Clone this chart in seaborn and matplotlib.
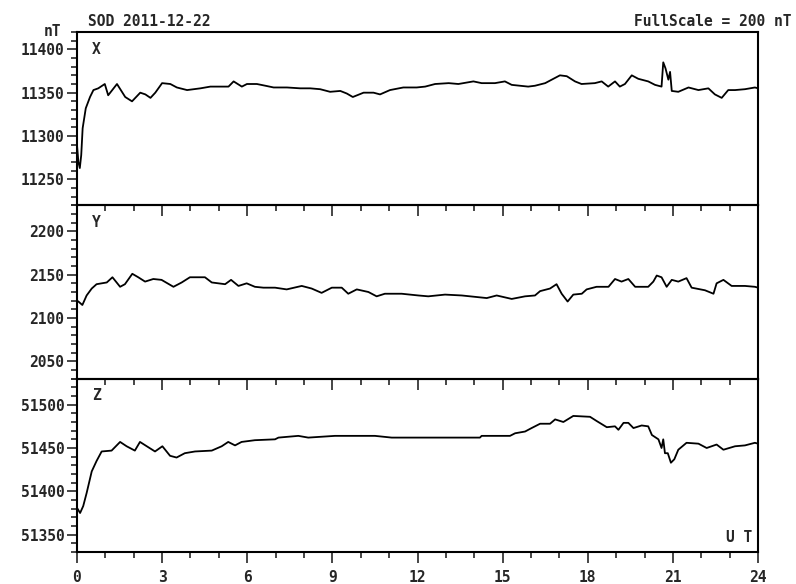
import numpy as np
import pandas as pd
import matplotlib
matplotlib.use("Agg")
import matplotlib.pyplot as plt
from matplotlib.ticker import MultipleLocator
import seaborn as sns

# Values (hours UT, nT)
x_hours = [0.0, 0.05, 0.1, 0.15, 0.2, 0.31, 0.46, 0.58, 0.75, 0.98, 1.1, 1.41, 1.7, 1.94,
           2.23, 2.41, 2.59, 2.76, 3.0, 3.29, 3.52, 3.88, 4.35, 4.7, 5.05, 5.34, 5.52, 5.81,
           5.99, 6.34, 6.64, 6.93, 7.4, 7.87, 8.22, 8.57, 8.92, 9.28, 9.51, 9.72, 10.1, 10.45,
           10.68, 11.03, 11.5, 11.97, 12.27, 12.62, 13.1, 13.44, 13.97, 14.26, 14.73, 15.08,
           15.32, 15.9, 16.14, 16.5, 16.73, 17.02, 17.26, 17.55, 17.78, 18.25, 18.49, 18.72,
           18.96, 19.13, 19.31, 19.55, 19.78, 20.13, 20.37, 20.6, 20.66, 20.74, 20.84, 20.9,
           20.96, 21.19, 21.55, 21.9, 22.25, 22.48, 22.72, 22.95, 23.19, 23.54, 23.89, 24.0]
x_nt = [11290, 11270, 11263, 11278, 11309, 11332, 11345, 11353, 11355, 11360, 11347, 11360,
        11345, 11340, 11350, 11348, 11344, 11350, 11361, 11360, 11356, 11353, 11355, 11357,
        11357, 11357, 11363, 11357, 11360, 11360, 11358, 11356, 11356, 11355, 11355, 11354,
        11351, 11352, 11349, 11345, 11350, 11350, 11348, 11353, 11356, 11356, 11357, 11360,
        11361, 11360, 11363, 11361, 11361, 11363, 11359, 11357, 11358, 11361, 11365, 11370,
        11369, 11363, 11360, 11361, 11363, 11357, 11363, 11357, 11360, 11370, 11366, 11363,
        11359, 11357, 11385, 11378, 11365, 11374, 11352, 11351, 11356, 11353, 11355, 11348,
        11344, 11353, 11353, 11354, 11356, 11355]

y_hours = [0.0, 0.05, 0.19, 0.34, 0.52, 0.69, 1.05, 1.25, 1.52, 1.69, 1.95, 2.16, 2.4, 2.69,
           2.98, 3.4, 3.69, 3.98, 4.51, 4.75, 5.22, 5.43, 5.69, 5.98, 6.27, 6.57, 6.98, 7.39,
           7.92, 8.27, 8.62, 8.98, 9.33, 9.56, 9.86, 10.27, 10.56, 10.85, 11.44, 12.03, 12.38,
           12.97, 13.56, 14.44, 14.79, 15.32, 15.79, 16.14, 16.32, 16.67, 16.9, 17.08, 17.29,
           17.49, 17.79, 17.96, 18.31, 18.73, 18.96, 19.19, 19.43, 19.67, 20.13, 20.31, 20.43,
           20.6, 20.78, 20.96, 21.19, 21.48, 21.66, 22.13, 22.43, 22.54, 22.78, 23.07, 23.54,
           23.89, 24.0]
y_nt = [2120, 2119, 2115, 2126, 2134, 2139, 2141, 2147, 2136, 2139, 2151, 2147, 2142, 2145,
        2144, 2136, 2141, 2147, 2147, 2141, 2139, 2144, 2137, 2140, 2136, 2135, 2135, 2133,
        2137, 2134, 2129, 2135, 2135, 2128, 2133, 2130, 2125, 2128, 2128, 2126, 2125, 2127,
        2126, 2123, 2126, 2122, 2125, 2126, 2131, 2134, 2139, 2128, 2119, 2127, 2128, 2133,
        2136, 2136, 2145, 2142, 2145, 2136, 2136, 2142, 2149, 2147, 2136, 2144, 2142, 2146,
        2135, 2132, 2128, 2140, 2144, 2137, 2137, 2136, 2135]

z_hours = [0.0, 0.11, 0.22, 0.34, 0.52, 0.69, 0.87, 1.22, 1.52, 1.75, 2.04, 2.22, 2.46, 2.75,
           3.01, 3.28, 3.51, 3.8, 4.16, 4.75, 5.1, 5.33, 5.57, 5.8, 6.27, 6.98, 7.1, 7.8, 8.15,
           9.09, 10.5, 11.09, 12.03, 14.2, 14.26, 15.26, 15.44, 15.79, 16.02, 16.32, 16.67,
           16.85, 17.14, 17.49, 18.08, 18.32, 18.67, 18.96, 19.08, 19.26, 19.43, 19.61, 19.9,
           20.13, 20.26, 20.49, 20.6, 20.66, 20.72, 20.82, 20.93, 21.05, 21.19, 21.48, 21.9,
           22.19, 22.54, 22.78, 23.19, 23.54, 23.89, 24.0]
z_nt = [51381, 51375, 51383, 51398, 51423, 51435, 51446, 51447, 51457, 51452, 51447, 51457,
        51452, 51446, 51452, 51441, 51439, 51444, 51446, 51447, 51452, 51457, 51453, 51457,
        51459, 51460, 51462, 51464, 51462, 51464, 51464, 51462, 51462, 51462, 51464, 51464,
        51467, 51469, 51473, 51478, 51478, 51483, 51480, 51487, 51486, 51481, 51474, 51475,
        51471, 51479, 51479, 51473, 51476, 51475, 51465, 51460, 51450, 51460, 51444, 51444,
        51433, 51437, 51448, 51456, 51455, 51450, 51454, 51448, 51452, 51453, 51456, 51455]

components = ["X", "Y", "Z"]
y_limits = [(11220, 11420), (2030, 2230), (51330, 51530)]
y_major_ticks = [[11250, 11300, 11350, 11400], [2050, 2100, 2150, 2200],
                 [51350, 51400, 51450, 51500]]
hour_ticks = [0, 3, 6, 9, 12, 15, 18, 21, 24]

sns.set_style("ticks")
plt.rcParams["font.family"] = ["DejaVu Sans Mono"]
plt.rcParams["font.weight"] = "bold"

fig, axes = plt.subplots(3, 1, figsize=(7.96, 5.84), dpi=100, sharex=True)
fig.subplots_adjust(left=0.0967, right=0.9523, top=0.9452, bottom=0.0548, hspace=0)

series = [(x_hours, x_nt), (y_hours, y_nt), (z_hours, z_nt)]
for i, ax in enumerate(axes):
    ax.set_facecolor("none")
    df = pd.DataFrame({"UT": series[i][0], "nT": series[i][1]})
    sns.lineplot(data=df, x="UT", y="nT", ax=ax, color="black", linewidth=1.3,
                 estimator=None, sort=False)
    ax.set_xlim(0, 24)
    ax.set_ylim(*y_limits[i])
    ax.set_xlabel("")
    ax.set_ylabel("")
    for sp in ax.spines.values():
        sp.set_visible(True)
        sp.set_linewidth(1.5)
        sp.set_color("black")

    ax.set_yticks(y_major_ticks[i])
    ax.yaxis.set_minor_locator(MultipleLocator(10))
    ax.tick_params(axis="y", which="major", direction="out", length=7.5, width=1.2,
                   labelsize=10.5, pad=1.5, right=False)
    ax.tick_params(axis="y", which="minor", direction="out", length=4.5, width=1.2,
                   right=False)
    for lab in ax.get_yticklabels():
        lab.set_fontweight("bold")

    # hour ticks hang below each panel, i.e. into the panel underneath
    ax.set_xticks(hour_ticks)
    ax.xaxis.set_minor_locator(MultipleLocator(1))
    ax.tick_params(axis="x", which="major", direction="out", length=8, width=1.2,
                   top=False, bottom=True, labelbottom=(i == 2), labelsize=10.5, pad=5)
    ax.tick_params(axis="x", which="minor", direction="out", length=4.5, width=1.2,
                   top=False, bottom=True)

    ax.text(0.022, 0.90, components[i], transform=ax.transAxes, fontsize=10.5,
            fontweight="bold", ha="left", va="center")

bottom = axes[2]
bottom.set_xticklabels([str(h) for h in hour_ticks], fontweight="bold")
bottom.text(0.991, 0.085, "U T", transform=bottom.transAxes, fontsize=10.5,
            fontweight="bold", ha="right", va="center")

fig.text(88 / 796, 1 - 22 / 584, "SOD 2011-12-22", fontsize=10.5, fontweight="bold",
         ha="left", va="center")
fig.text(792 / 796, 1 - 22 / 584, "FullScale = 200 nT", fontsize=10.5, fontweight="bold",
         ha="right", va="center")
fig.text(52 / 796, 1 - 32 / 584, "nT", fontsize=10.5, fontweight="bold",
         ha="center", va="center")

fig.savefig("out.png", dpi=100, facecolor="white")
